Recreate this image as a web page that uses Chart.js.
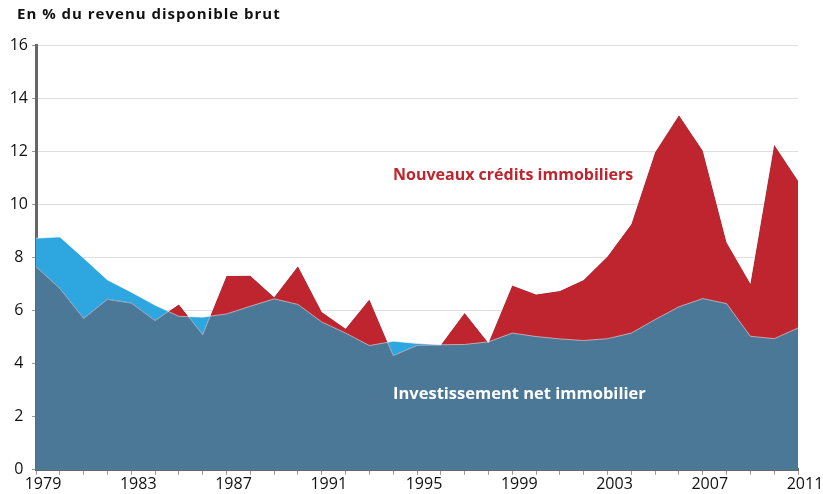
<!DOCTYPE html>
<html>
<head>
<meta charset="utf-8">
<script src="https://cdn.jsdelivr.net/npm/chart.js@4"></script>
<style>
  body { margin: 0; background: #fff; }
  #wrap { width: 823px; height: 494px; position: relative; }
</style>
</head>
<body>
<div id="wrap"><canvas id="chart"></canvas></div>
<script>
let years = []
for (let y = 1979; y <= 2011; y++) years.push(String(y))

// en % du revenu disponible brut
let investissement = [8.72, 8.77, 7.97, 7.15, 6.69, 6.20, 5.78, 5.75, 5.87, 6.16, 6.44,
    6.23, 5.57, 5.15, 4.68, 4.84, 4.76, 4.71, 4.72, 4.82, 5.15, 5.02, 4.93, 4.87, 4.94,
    5.15, 5.66, 6.14, 6.45, 6.26, 5.03, 4.94, 5.34]
let credits = [7.65, 6.83, 5.70, 6.42, 6.28, 5.62, 6.23, 5.09, 7.30, 7.31, 6.50,
    7.67, 5.94, 5.31, 6.41, 4.30, 4.68, 4.70, 5.91, 4.78, 6.94, 6.60, 6.73, 7.15, 8.03,
    9.25, 11.96, 13.35, 12.02, 8.56, 7.01, 12.24, 10.89]
let yTicks = [0, 2, 4, 6, 8, 10, 12, 14, 16]

const FONT = "'Open Sans', sans-serif"
const DARK = '#4a7896'
const LIGHT = '#2ea7e0'
const RED = '#bf252e'
const EDGE = 'rgba(255,255,255,0.5)'

let textPlugin = {
    id: 'texts',
    afterDraw(chart) {
        let ctx = chart.ctx
        ctx.save()
        ctx.textBaseline = 'middle'
        ctx.textAlign = 'left'
        ctx.fillStyle = '#111'
        ctx.font = 'bold 15px ' + FONT
        ctx.letterSpacing = '1px'
        ctx.fillText('En % du revenu disponible brut', 17, 15)
        ctx.letterSpacing = '0px'
        ctx.font = 'bold 16px ' + FONT
        ctx.fillStyle = RED
        ctx.fillText('Nouveaux crédits immobiliers', 393, 175)
        ctx.fillStyle = '#fff'
        ctx.font = 'bold 16.5px ' + FONT
        ctx.fillText('Investissement net immobilier', 393, 394)
        ctx.restore()
    }
}

// datasets drawn last-to-first: light blue under investissement, dark under crédits,
// then red between the two where crédits exceed investissement
new Chart(document.getElementById('chart'), {
    type: 'line',
    data: {
        labels: years,
        datasets: [{
            label: 'écart',
            data: investissement,
            fill: { target: 1, above: 'rgba(0,0,0,0)', below: RED },
            borderColor: EDGE,
            borderWidth: 1,
            pointRadius: 0
        }, {
            label: 'Nouveaux crédits immobiliers',
            data: credits,
            fill: 'origin',
            backgroundColor: DARK,
            borderColor: EDGE,
            borderWidth: 1,
            pointRadius: 0
        }, {
            label: 'Investissement net immobilier',
            data: investissement,
            fill: 'origin',
            backgroundColor: LIGHT,
            borderWidth: 0,
            borderColor: 'rgba(0,0,0,0)',
            pointRadius: 0
        }]
    },
    options: {
        responsive: true,
        maintainAspectRatio: false,
        animation: false,
        layout: { padding: { left: 0, right: 25, top: 45, bottom: 0 } },
        plugins: {
            legend: { display: false },
            tooltip: { enabled: false }
        },
        scales: {
            x: {
                offset: false,
                grid: { drawOnChartArea: false, tickLength: 5, tickColor: '#999', lineWidth: 1 },
                border: { color: '#666', width: 3 },
                ticks: {
                    autoSkip: false,
                    maxRotation: 0,
                    labelOffset: 7,
                    padding: 0,
                    color: '#111',
                    font: { family: FONT, size: 16 },
                    callback: function (v, i) { return i % 4 === 0 ? years[i] : '' }
                }
            },
            y: {
                min: 0,
                max: 16,
                afterBuildTicks: axis => { axis.ticks = yTicks.map(v => ({ value: v })) },
                afterFit: axis => { axis.width = 36 },
                grid: { color: '#dedede', lineWidth: 1, tickLength: 4, tickColor: '#999' },
                border: { color: '#666', width: 3 },
                ticks: {
                    crossAlign: 'center',
                    padding: 4,
                    color: '#111',
                    font: { family: FONT, size: 16 }
                }
            }
        }
    },
    plugins: [textPlugin]
})
</script>
</body>
</html>
